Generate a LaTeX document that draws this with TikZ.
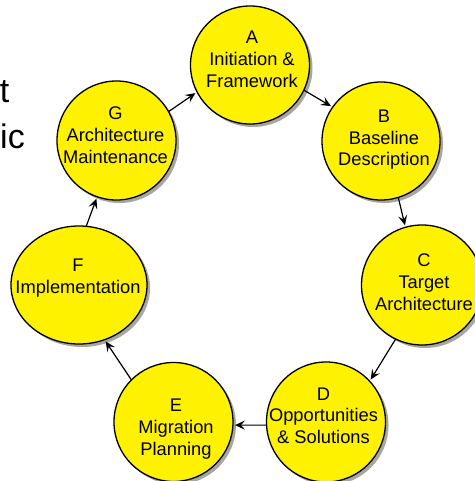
\documentclass[tikz,border=0pt]{standalone}
\usepackage{fontspec}
\setmainfont{Liberation Sans}
\usetikzlibrary{shapes.geometric,arrows.meta,shadows}
\begin{document}
\begin{tikzpicture}[x=1pt,y=-1pt,
  phase/.style={ellipse,draw=black,line width=1.3pt,fill=yellow,inner sep=0pt,outer sep=0pt,
    drop shadow={shadow xshift=3pt,shadow yshift=-3pt,fill=black,opacity=0.35}},
  lbl/.style={align=center,inner sep=0pt,font=\fontsize{18.3}{21.7}\selectfont},
  flow/.style={line width=1.2pt,-{Stealth[length=10pt,width=9pt,inset=4pt]},shorten >=2pt},
  side/.style={anchor=base east,inner sep=0pt,font=\fontsize{34}{40}\selectfont}]
\useasboundingbox (0,0) rectangle (474,481);

\node[side] (t1) at (9.5,102.7) {t};
\node[side] (t2) at (25,149) {ic};

\node[phase,minimum width=119pt,minimum height=118pt] (A) at (250,65) {};
\node[phase,minimum width=118pt,minimum height=118pt] (B) at (381,141) {};
\node[phase,minimum width=121pt,minimum height=120pt] (C) at (422,285) {};
\node[phase,minimum width=119pt,minimum height=120pt] (D) at (326,422) {};
\node[phase,minimum width=119pt,minimum height=119pt] (E) at (173.5,422) {};
\node[phase,minimum width=136pt,minimum height=118pt] (F) at (79,285) {};
\node[phase,minimum width=119pt,minimum height=119pt] (G) at (116.5,140.5) {};

\node[lbl] (At) at (252,61.2) {\strut A\\\strut Initiation \&\\\strut Framework};
\node[lbl] (Bt) at (384,139.7) {\strut B\\\strut Baseline\\\strut Description};
\node[lbl] (Ct) at (424,284) {\strut C\\\strut Target\\\strut Architecture};
\node[lbl] (Dt) at (323.5,417.4) {\strut D\\\strut Opportunities\\\strut \& Solutions};
\node[lbl] (Et) at (176,429) {\strut E\\\strut Migration\\\strut Planning};
\node[lbl] (Ft) at (78,278.2) {\strut F\\\strut Implementation};
\node[lbl] (Gt) at (115.5,137.2) {\strut G\\\strut Architecture\\\strut Maintenance};

\draw[flow] (G.29) -- (A.207);
\draw[flow] (A.-25) -- (B.145);
\draw[flow] (B.-73) -- (C.106);
\draw[flow] (C.244) -- (D.43);
\draw[flow] (D.183) -- (E.-3);
\draw[flow] (E.135) -- (F.295);
\draw[flow] (F.83) -- (G.251);
\end{tikzpicture}
\end{document}
